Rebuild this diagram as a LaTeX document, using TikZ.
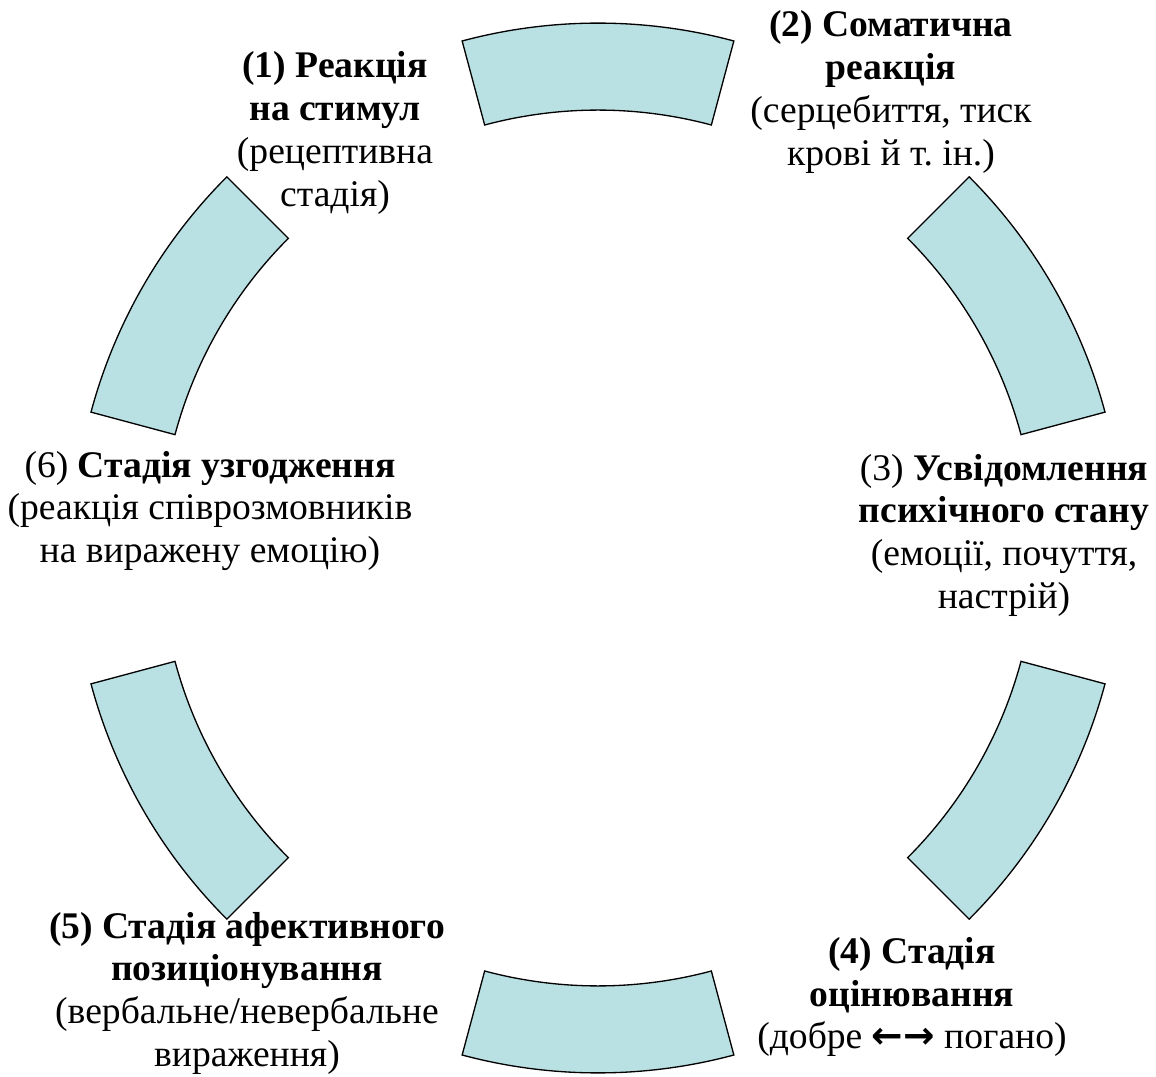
\documentclass[tikz,border=0pt]{standalone}
\usepackage{fontspec}
\setmainfont{Liberation Serif}
\newfontfamily\arrowfont{DejaVu Sans}
\usetikzlibrary{positioning}
\definecolor{segblue}{RGB}{185,224,227}
\tikzset{
  segment/.style={draw=black, line width=0.75pt, fill=segblue},
  stage/.style={align=center, inner sep=0pt, font=\fontsize{21.4}{24.3}\selectfont}
}
\begin{document}
\begin{tikzpicture}[x=0.02cm, y=0.02cm]
    \useasboundingbox (0,0) rectangle (1156,1076);
    \coordinate (c) at (598,528);
    \foreach \a in {90,30,-30,-90,-150,150}
        \draw[segment, shift={(c)}] (\a-15:10.5cm) arc[start angle=\a-15, end angle=\a+15, radius=10.5cm]
            -- (\a+15:8.76cm) arc[start angle=\a+15, end angle=\a-15, radius=8.76cm] -- cycle;
    \node[stage] (s1) at (335,943) {\textbf{(1) Реакція}\\ \textbf{на стимул}\\ (рецептивна\\ стадія)};
    \node[stage] (s2) at (891,984) {\textbf{(2) Соматична}\\ \textbf{реакція}\\ (серцебиття, тиск\\ крові й т.\ ін.)};
    \node[stage] (s3) at (1004,541) {(3) \textbf{Усвідомлення}\\ \textbf{психічного стану}\\ (емоції, почуття,\\ настрій)};
    \node[stage] (s4) at (912,79) {\textbf{(4) Стадія}\\ \textbf{оцінювання}\\ (добре {\arrowfont\bfseries ←→} погано)};
    \node[stage] (s5) at (247,83) {\textbf{(5) Стадія афективного}\\ \textbf{позиціонування}\\ (вербальне/невербальне\\ вираження)};
    \node[stage] (s6) at (210,565) {(6) \textbf{Стадія узгодження}\\ (реакція співрозмовників\\ на виражену емоцію)};
\end{tikzpicture}
\end{document}
